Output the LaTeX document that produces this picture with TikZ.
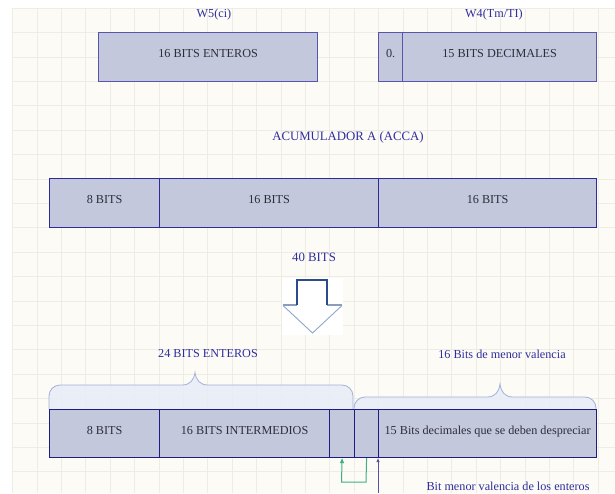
\documentclass[tikz,border=0pt]{standalone}
\usepackage{fontspec}
\setmainfont{Liberation Serif}
\usetikzlibrary{arrows.meta}
\definecolor{gridbg}{HTML}{FDFBF6}
\definecolor{gridln}{HTML}{EEECE5}
\definecolor{boxfill}{HTML}{C3C8DC}
\definecolor{topedge}{HTML}{5955AE}
\definecolor{accaedge}{HTML}{2E2A9A}
\definecolor{botedge}{HTML}{1C1C82}
\definecolor{boxtext}{HTML}{2E2E3A}
\definecolor{lbl}{HTML}{2E2E9E}
\definecolor{bracefill}{HTML}{E6ECF8}
\definecolor{braceedge}{HTML}{A5B0D6}
\definecolor{arrdark}{HTML}{2D4B8A}
\definecolor{arrlight}{HTML}{8FA6D0}
\definecolor{arrwing}{HTML}{8C9CBF}
\definecolor{grn}{HTML}{3DAF85}
\definecolor{purp}{HTML}{5B4FA8}
\tikzset{
  cell/.style={draw, fill=boxfill, line width=1.2pt, inner sep=0pt, anchor=north west,
    text=boxtext, font=\fontsize{12.2}{14}\selectfont, text height=9pt, text depth=8pt},
  topcell/.style={cell, draw=topedge, minimum height=49pt},
  accacell/.style={cell, draw=accaedge, minimum height=49pt},
  botcell/.style={cell, draw=botedge, minimum height=48pt},
  lab/.style={text=lbl, font=\fontsize{12.2}{14}\selectfont, inner sep=0pt},
  bracestyle/.style={fill=bracefill, fill opacity=0.85, draw=braceedge, line width=0.8pt},
}
\begin{document}
\begin{tikzpicture}[x=1pt,y=-1pt]
\useasboundingbox (0,0) rectangle (615,493);
\fill[white] (0,0) rectangle (615,493);
\fill[gridbg] (12.7,8.3) rectangle (615,493);
\foreach \i in {0,...,24} \draw[gridln, line width=0.9pt] ({12.7+24.4*\i},8.3) -- ({12.7+24.4*\i},493);
\foreach \j in {0,...,19} \draw[gridln, line width=0.9pt] (12.7,{8.3+24.4*\j}) -- (615,{8.3+24.4*\j});

% top row
\node[lab] (w5) at (214,15) {W5(ci)};
\node[lab] (w4) at (494,15) {W4(Tm/TI)};
\node[topcell, minimum width=219pt] (ent) at (98,32) {16 BITS ENTEROS};
\node[topcell, minimum width=24pt] (zero) at (378,32) {0.};
\node[topcell, minimum width=194pt] (dec) at (402,32) {15 BITS DECIMALES};

% accumulator
\node[lab, font=\fontsize{12.8}{14}\selectfont] (acca) at (348,137) {ACUMULADOR A (ACCA)};
\node[accacell, minimum width=110pt] (a1) at (49,178) {8 BITS};
\node[accacell, minimum width=219pt] (a2) at (159,178) {16 BITS};
\node[accacell, minimum width=218pt] (a3) at (378,178) {16 BITS};
\node[lab, font=\fontsize{12.8}{14}\selectfont] (forty) at (314,257) {40 BITS};

% block arrow
\fill[white] (282,278) rectangle (343,335);
\fill[white] (297,280) -- (327,280) -- (327,305) -- (342,305) -- (312.5,333) -- (283,305) -- (297,305) -- cycle;
\draw[arrwing, line width=2pt] (283,305) -- (297,305);
\draw[arrwing, line width=2pt] (327,305) -- (342,305);
\draw[arrlight, line width=0.9pt] (283,305.5) -- (312.5,333) -- (342,305.5);
\draw[arrdark, line width=1.2pt] (297,305) -- (297,280) -- (327,280) -- (327,305);

% braces
\path[bracestyle] (49,409) -- (49,396) arc[start angle=180, end angle=270, radius=11]
  -- (182,385) .. controls (190,385) and (194,380) .. (195,372.5)
  .. controls (196,380) and (200,385) .. (208,385)
  -- (342,385) arc[start angle=270, end angle=360, radius=11] -- (353,409);
\path[bracestyle] (354,409) -- (354,408) arc[start angle=180, end angle=270, radius=11]
  -- (487,397) .. controls (495,397) and (499,392) .. (500,384)
  .. controls (501,392) and (505,397) .. (513,397)
  -- (585,397) arc[start angle=270, end angle=360, radius=11] -- (596,409);
\node[lab] (ent24) at (208,354) {24 BITS ENTEROS};
\node[lab] (men16) at (502,354) {16 Bits de menor valencia};

% bottom row
\node[botcell, minimum width=110pt] (b1) at (49,409) {8 BITS};
\node[botcell, minimum width=170pt] (b2) at (159,409) {16 BITS INTERMEDIOS};
\node[botcell, minimum width=25pt] (b3) at (329,409) {};
\node[botcell, minimum width=24pt] (b4) at (354,409) {};
\node[botcell, minimum width=218pt] (b5) at (378,409) {15 Bits decimales que se deben despreciar};

% connectors
\coordinate (g1) at (366,482);
\coordinate (g2) at (341.5,482);
\draw[grn, line width=1pt, -{Triangle[length=5pt,width=4pt]}] (b4.south) -- (g1) -- (g2) -- (b3.south);
\coordinate (p0) at (378,493);
\draw[purp, line width=1pt, -{Triangle[length=4pt,width=3pt]}] (p0) -- (b5.south west);
\node[lab] (bitmen) at (508,486.5) {Bit menor valencia de los enteros};
\end{tikzpicture}
\end{document}
